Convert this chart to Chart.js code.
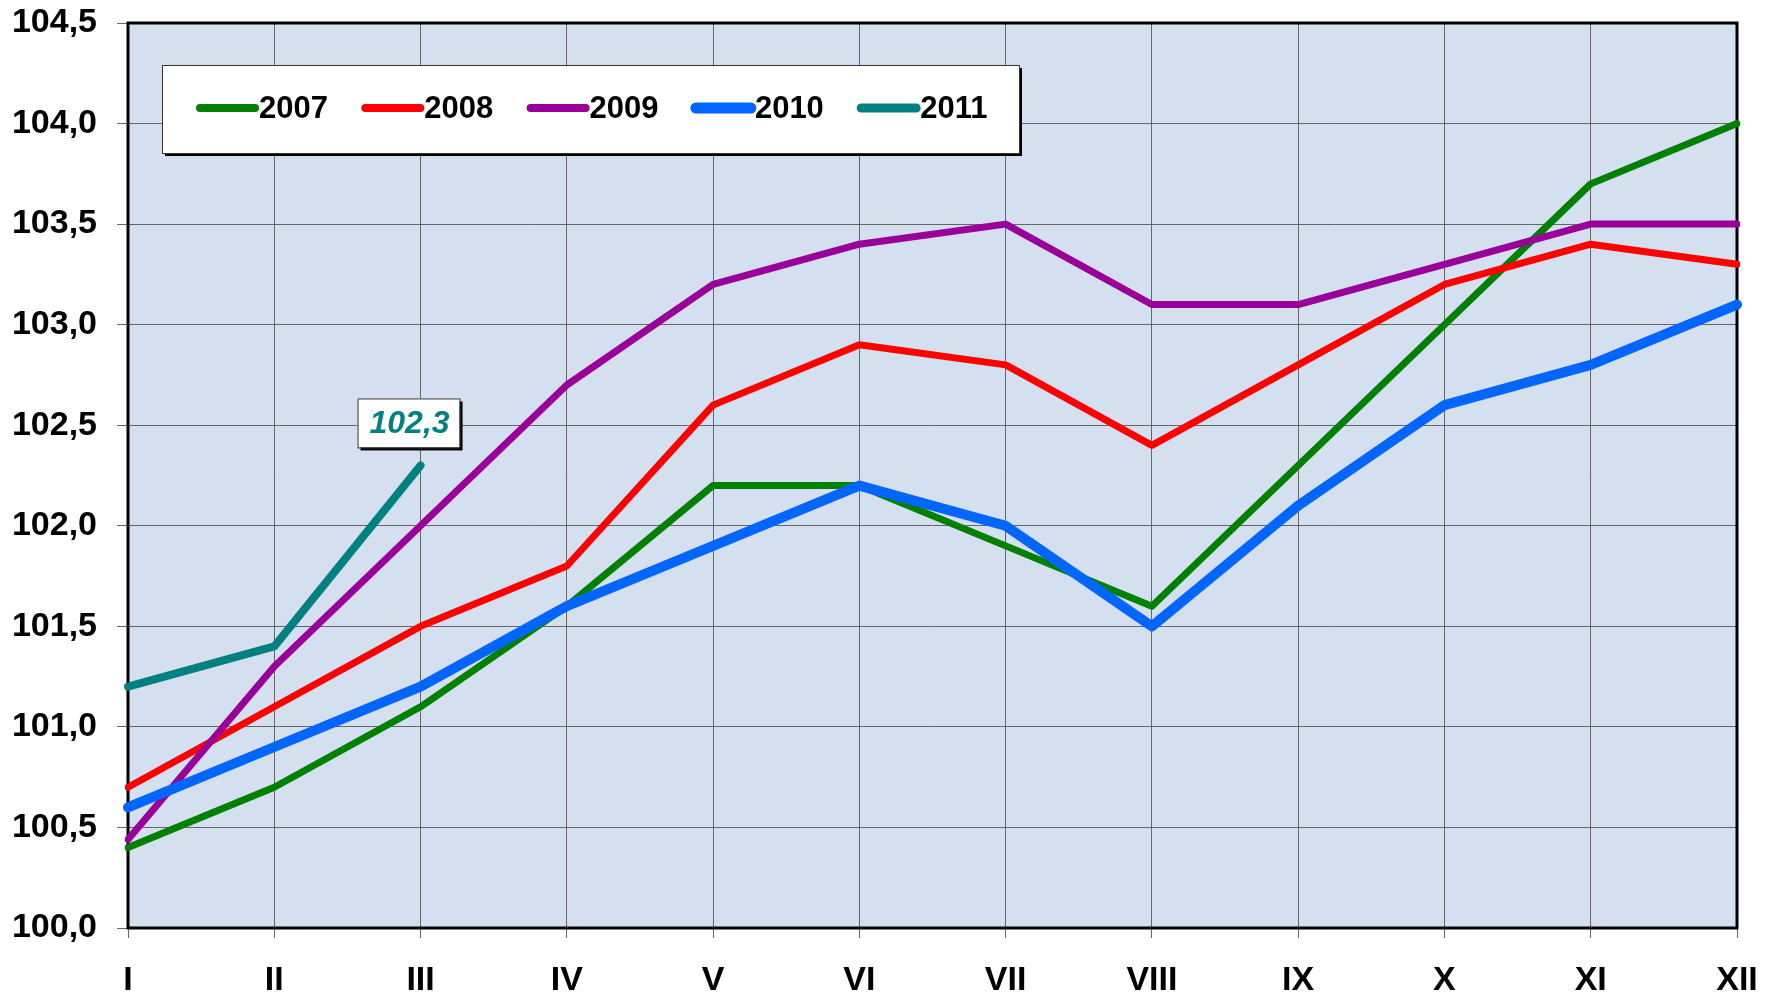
<!DOCTYPE html>
<html>
<head>
<meta charset="utf-8">
<script src="https://cdn.jsdelivr.net/npm/chart.js@4.4.1/dist/chart.umd.min.js"></script>
<style>
html,body{margin:0;padding:0;background:#fff;}
#wrap{width:1775px;height:996px;position:relative;}
</style>
</head>
<body>
<div id="wrap"><canvas id="c" width="1775" height="996"></canvas></div>
<script>
const months = ["I","II","III","IV","V","VI","VII","VIII","IX","X","XI","XII"];
const y2007 = [100.4,100.7,101.1,101.6,102.2,102.2,101.9,101.6,102.3,103.0,103.7,104.0];
const y2008 = [100.7,101.1,101.5,101.8,102.6,102.9,102.8,102.4,102.8,103.2,103.4,103.3];
const y2009 = [100.44,101.3,102.0,102.7,103.2,103.4,103.5,103.1,103.1,103.3,103.5,103.5];
const y2010 = [100.6,100.9,101.2,101.6,101.9,102.2,102.0,101.5,102.1,102.6,102.8,103.1];
const y2011 = [101.2,101.4,102.3];
const seriesNames = ["2007","2008","2009","2010","2011"];
const yMin = 100, yMax = 104.5, yStep = 0.5;
const calloutText = "102,3";

const colors = ["#008000","#ff0000","#990099","#0066ff","#008080"];
const widths = [7,7,7,10,8];
const allData = [y2007,y2008,y2009,y2010,y2011];

const FONT = "'Liberation Sans', Arial, sans-serif";

const bgPlugin = {
  id: 'bg',
  beforeDraw(chart) {
    const {ctx, chartArea: a} = chart;
    ctx.save();
    ctx.fillStyle = '#d4dfef';
    ctx.fillRect(a.left, a.top, a.right - a.left, a.bottom - a.top);
    ctx.restore();
  },
  beforeDatasetsDraw(chart) {
    const {ctx, chartArea: a} = chart;
    ctx.save();
    ctx.strokeStyle = '#000';
    ctx.lineWidth = 3;
    ctx.strokeRect(a.left, a.top, a.right - a.left, a.bottom - a.top);
    ctx.restore();
  }
};

function boxWithShadow(ctx, x, y, w, h) {
  ctx.fillStyle = '#000';
  ctx.fillRect(x + 3, y + 3, w, h);
  ctx.fillStyle = '#fff';
  ctx.fillRect(x, y, w, h);
  ctx.strokeStyle = '#333';
  ctx.lineWidth = 1;
  ctx.strokeRect(x + 0.5, y + 0.5, w, h);
}

const overlayPlugin = {
  id: 'overlay',
  afterDraw(chart) {
    const ctx = chart.ctx;
    ctx.save();
    // legend
    const lx = 162, ly = 65, lw = 857, lh = 88;
    boxWithShadow(ctx, lx, ly, lw, lh);
    const cy = 108;
    chart.data.datasets.forEach((ds, i) => {
      const sx = 200 + i * 165.3;
      ctx.strokeStyle = ds.borderColor;
      ctx.lineWidth = ds.borderWidth + 1;
      ctx.lineCap = 'round';
      ctx.beginPath();
      ctx.moveTo(sx, cy);
      ctx.lineTo(sx + 55, cy);
      ctx.stroke();
      ctx.fillStyle = '#000';
      ctx.font = "bold 31px " + FONT;
      ctx.textAlign = 'left';
      ctx.textBaseline = 'middle';
      ctx.fillText(ds.label, sx + 59, cy + 1);
    });
    // callout on last 2011 point
    const meta = chart.getDatasetMeta(4);
    const pt = meta.data[meta.data.length - 1];
    const bx = pt.x - 63, by = pt.y - 67, bw = 102, bh = 49;
    boxWithShadow(ctx, bx, by, bw, bh);
    ctx.fillStyle = '#008080';
    ctx.font = "italic bold 32px " + FONT;
    ctx.textAlign = 'center';
    ctx.textBaseline = 'middle';
    ctx.fillText(calloutText, bx + bw / 2 + 1, by + bh / 2 + 1);
    ctx.restore();
  }
};

const datasets = allData.map((d, i) => ({
  label: seriesNames[i],
  data: d,
  borderColor: colors[i],
  backgroundColor: colors[i],
  borderWidth: widths[i],
  pointRadius: 0,
  tension: 0,
  fill: false,
  borderCapStyle: 'round',
  borderJoinStyle: 'round',
  order: 4 - i
}));

new Chart(document.getElementById('c'), {
  type: 'line',
  data: { labels: months, datasets },
  options: {
    responsive: false,
    animation: false,
    devicePixelRatio: 1,
    layout: { padding: { left: 0, top: 23, right: 38, bottom: 0 } },
    plugins: { legend: { display: false }, tooltip: { enabled: false } },
    scales: {
      x: {
        type: 'category',
        offset: false,
        afterFit(s) { s.height = 68; s.paddingLeft = 0; s.paddingRight = 0; },
        grid: { display: true, color: '#666666', lineWidth: 1, tickLength: 10, drawTicks: true },
        border: { display: false },
        ticks: { color: '#000', font: { family: FONT, size: 34, weight: 'bold' }, padding: 22, maxRotation: 0, autoSkip: false }
      },
      y: {
        min: yMin, max: yMax,
        afterFit(s) { s.width = 128; s.paddingTop = 0; s.paddingBottom = 0; },
        grid: { display: true, color: '#666666', lineWidth: 1, tickLength: 11 },
        border: { display: false },
        ticks: {
          stepSize: yStep,
          color: '#000',
          padding: 20,
          font: { family: FONT, size: 34, weight: 'bold' },
          callback: v => Number(v).toFixed(1).replace('.', ',')
        }
      }
    }
  },
  plugins: [bgPlugin, overlayPlugin]
});
</script>
</body>
</html>
